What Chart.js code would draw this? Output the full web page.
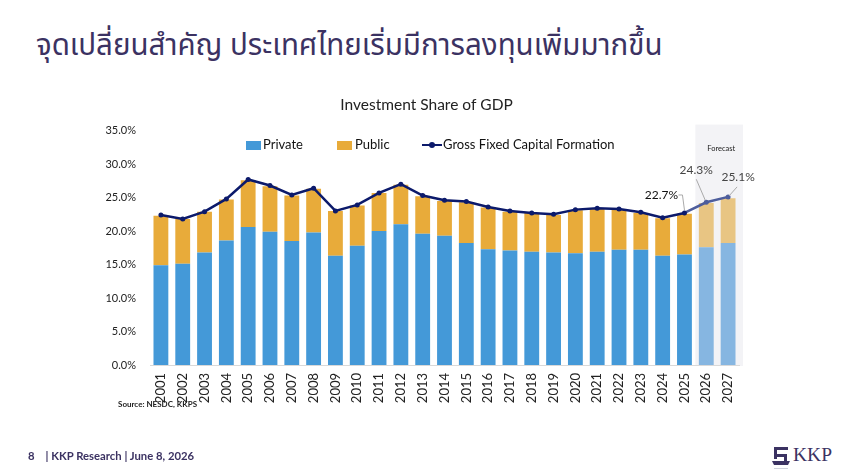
<!DOCTYPE html>
<html>
<head>
<meta charset="utf-8">
<script src="https://cdn.jsdelivr.net/npm/chart.js@4.4.1/dist/chart.umd.min.js"></script>
<style>
  body { margin: 0; width: 850px; height: 475px; background: #fff; position: relative; overflow: hidden; font-family: Lato, "Noto Sans", sans-serif; }
  #pageTitle { position: absolute; left: 36px; top: 24px; font-family: "Noto Sans Thai", "Noto Sans", sans-serif; font-size: 29.5px; color: #3b3262; white-space: nowrap; }
  #wrap { position: absolute; left: 90px; top: 90px; width: 672px; height: 330px; }
  .lg { position: absolute; top: 138px; font-size: 13px; color: #111; line-height: 13px; white-space: nowrap; }
  .box { position: absolute; top: 141px; width: 15px; height: 9px; }
  #source { position: absolute; left: 118px; top: 399px; font-size: 8px; font-weight: bold; color: #222; }
  #footer { position: absolute; left: 28px; top: 449px; font-size: 11.3px; font-weight: bold; color: #3b3262; white-space: nowrap; }
  #logo { position: absolute; left: 772px; top: 444px; }
  #logoText { position: absolute; left: 793px; top: 444px; font-family: "Liberation Serif", serif; font-size: 19.5px; color: #3b3262; }
</style>
</head>
<body>
<div id="pageTitle">จุดเปลี่ยนสำคัญ ประเทศไทยเริ่มมีการลงทุนเพิ่มมากขึ้น</div>
<div id="wrap"><canvas id="myChart" width="672" height="330"></canvas></div>

<div class="box" style="left:246px;background:#4499d8"></div>
<div class="lg" style="left:263px">Private</div>
<div class="box" style="left:337px;background:#e8ab3a"></div>
<div class="lg" style="left:355px">Public</div>
<div style="position:absolute;left:422px;top:144px;width:20px;height:2px;background:#0c1a6b"></div>
<div style="position:absolute;left:429px;top:142px;width:6px;height:6px;border-radius:3px;background:#0c1a6b"></div>
<div class="lg" style="left:443px">Gross Fixed Capital Formation</div>

<div id="source">Source: NESDC, KKPS</div>
<div id="footer">8&nbsp;&nbsp;&nbsp;&nbsp;| KKP Research | June 8, 2026</div>
<svg id="logo" width="20" height="26" viewBox="0 0 20 26">
  <rect x="2" y="3" width="14" height="3" fill="#3b3262"/>
  <rect x="2" y="3" width="3" height="12" fill="#3b3262"/>
  <rect x="2" y="10" width="12" height="3" fill="#3b3262"/>
  <rect x="12" y="10" width="3" height="7" fill="#3b3262"/>
  <polygon points="0,17 18,17 16,21 2,21" fill="#3b3262"/>
  <rect x="2" y="24" width="14" height="1" fill="#cfd2dc"/>
</svg>
<div id="logoText">KKP</div>

<script>
// DATA
const years = ['2001','2002','2003','2004','2005','2006','2007','2008','2009','2010','2011','2012','2013','2014',
               '2015','2016','2017','2018','2019','2020','2021','2022','2023','2024','2025','2026','2027'];
const privateShare = [14.9, 15.1, 16.8, 18.6, 20.6, 19.9, 18.5, 19.8, 16.3, 17.8, 20.0, 21.0, 19.6, 19.3,
                      18.2, 17.3, 17.1, 16.9, 16.8, 16.7, 16.9, 17.2, 17.2, 16.3, 16.5, 17.6, 18.2];
const publicShare = [7.4, 6.7, 6.1, 6.1, 7.0, 6.8, 6.8, 6.5, 6.7, 6.0, 5.7, 5.9, 5.6, 5.2,
                     6.1, 6.2, 5.8, 5.8, 5.6, 6.4, 6.5, 6.0, 5.5, 5.6, 6.1, 6.6, 6.7];
const gfcf = [22.4, 21.8, 22.9, 24.8, 27.7, 26.8, 25.4, 26.4, 23.0, 23.9, 25.7, 27.0, 25.3, 24.6,
              24.4, 23.6, 23.0, 22.7, 22.5, 23.2, 23.4, 23.3, 22.8, 22.0, 22.7, 24.3, 25.1];
const yTicks = [0, 5, 10, 15, 20, 25, 30, 35];
const forecastStart = 25;

// labels with leader lines: index, text offset, leader path (relative to point)
const callouts = [
    { i: 24, tx: -23, ty: -18, color: '#111', path: [[-6, -18], [-2, -18], [0, -3]] },
    { i: 25, tx: -10, ty: -32, color: '#444', path: [[-10, -23], [-1, -2]] },
    { i: 26, tx: 10, ty: -20, color: '#444', path: [[9, -10], [1, -1]] }
];

// SHADED FORECAST AREA
const forecastShade = {
    id: 'forecastShade',
    beforeDraw(chart) {
        const x = chart.scales.x;
        const a = chart.chartArea;
        const c = chart.ctx;
        const half = (x.getPixelForValue(1) - x.getPixelForValue(0)) / 2;
        const left = x.getPixelForValue(forecastStart) - half;
        c.save();
        c.fillStyle = '#f3f3f6';
        c.fillRect(left, a.top - 6, a.right + 4 - left, a.bottom - a.top + 7);
        c.fillStyle = '#222';
        c.font = '7.5px Lato';
        c.textAlign = 'center';
        c.textBaseline = 'middle';
        c.fillText('Forecast', (left + a.right + 4) / 2 + 2, a.top + 18);
        c.restore();
    }
};

// nudge chart title so it sits over the middle of the slide block
const titleShift = {
    id: 'titleShift',
    afterLayout(chart) {
        chart.titleBlock.left += 24;
    }
};

// VALUE LABELS
const calloutLabels = {
    id: 'calloutLabels',
    afterDatasetsDraw(chart) {
        const meta = chart.getDatasetMeta(0);
        const c = chart.ctx;
        c.save();
        callouts.forEach(co => {
            const p = meta.data[co.i];
            c.strokeStyle = '#aaa';
            c.lineWidth = 1;
            c.beginPath();
            co.path.forEach((pt, k) => {
                if (k === 0) c.moveTo(p.x + pt[0], p.y + pt[1]);
                else c.lineTo(p.x + pt[0], p.y + pt[1]);
            });
            c.stroke();
            c.fillStyle = co.color;
            c.font = '12px Lato';
            c.textAlign = 'center';
            c.textBaseline = 'middle';
            c.fillText(gfcf[co.i].toFixed(1) + '%', p.x + co.tx, p.y + co.ty);
        });
        c.restore();
    }
};

const ctx = document.getElementById('myChart').getContext('2d');
Chart.defaults.font.family = "Lato, 'Noto Sans', sans-serif";

const myChart = new Chart(ctx, {
    type: 'bar',
    data: {
        labels: years,
        datasets: [{
            type: 'line',
            label: 'Gross Fixed Capital Formation',
            data: gfcf,
            stack: 'line',
            borderColor: '#0c1a6b',
            borderWidth: 2.5,
            pointRadius: 2.5,
            pointBorderWidth: 0,
            pointBackgroundColor: years.map((y, i) => i >= forecastStart ? '#4d5d9c' : '#0c1a6b'),
            segment: {
                borderColor: s => s.p1DataIndex >= forecastStart ? '#4d5d9c' : undefined
            },
            tension: 0,
            order: 0
        },
        {
            label: 'Private',
            data: privateShare,
            stack: 'share',
            backgroundColor: years.map((y, i) => i >= forecastStart ? '#86b6e1' : '#4499d8'),
            barPercentage: 0.68,
            categoryPercentage: 1,
            order: 1
        },
        {
            label: 'Public',
            data: publicShare,
            stack: 'share',
            backgroundColor: years.map((y, i) => i >= forecastStart ? '#e8c583' : '#e8ab3a'),
            barPercentage: 0.68,
            categoryPercentage: 1,
            order: 1
        }]
    },
    options: {
        responsive: false,
        animation: false,
        layout: { padding: { top: 0, right: 23, bottom: 10, left: 0 } },
        plugins: {
            legend: { display: false },
            tooltip: { enabled: false },
            title: {
                display: true,
                text: 'Investment Share of GDP',
                color: '#222',
                font: { size: 15.5, weight: 'normal' },
                padding: { top: 6, bottom: 16 }
            }
        },
        scales: {
            x: {
                stacked: true,
                grid: { display: false, drawTicks: false },
                border: { display: true, color: '#d9d9d9', width: 1 },
                ticks: { minRotation: 90, maxRotation: 90, padding: 8, color: '#222', font: { size: 13 } },
                afterFit: s => { s.height = 45; }
            },
            y: {
                stacked: true,
                min: 0,
                max: 35,
                afterBuildTicks: s => { s.ticks = yTicks.map(v => ({ value: v })); },
                grid: { display: false, drawTicks: false },
                border: { display: false },
                ticks: { padding: 14, color: '#222', font: { size: 11 }, callback: v => v.toFixed(1) + '%' },
                afterFit: s => { s.width = 60; }
            }
        }
    },
    plugins: [forecastShade, titleShift, calloutLabels]
});
</script>
</body>
</html>
